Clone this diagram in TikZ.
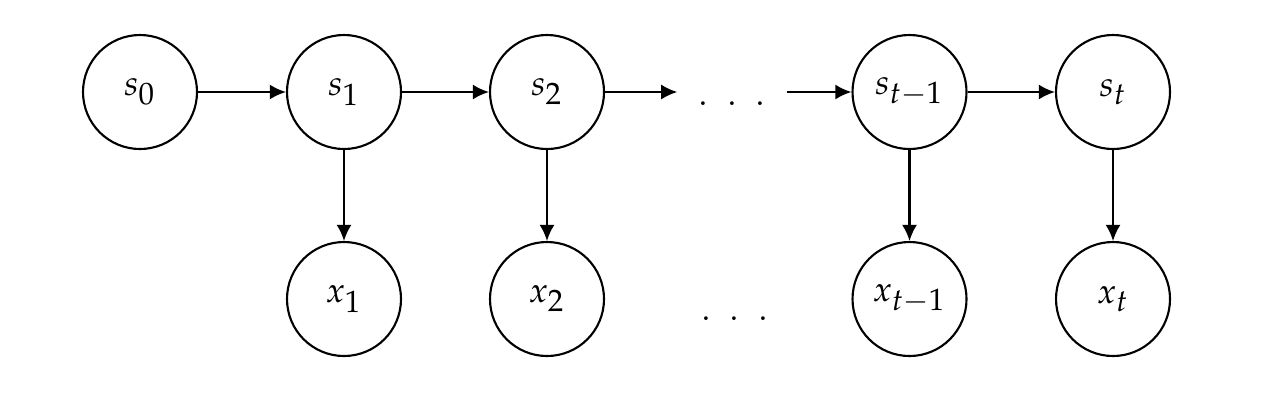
\documentclass[tikz,border=0pt]{standalone}
\usepackage{amsmath}
\usepackage{mathpazo}
\usetikzlibrary{arrows.meta}
\DeclareMathSizes{10}{10}{8.8}{7}
\newcommand{\wdots}{.\kern5.3pt.\kern5.3pt.}

\begin{document}
\begin{tikzpicture}
\tikzset{state/.style = {circle, draw, line width=.6pt, inner sep=0pt, minimum size=1.14cm}}
\tikzset{gap/.style = {inner sep=0pt, minimum width=1.08cm, text height=.27cm, text depth=0pt}}
\tikzset{edge/.style = {-{Latex[length=4.6pt,width=4.3pt]}, line width=.6 pt}}

\useasboundingbox (0, 0) rectangle (12.77, 4);

% hidden states
\node[state] (s0) at (1.40, 3.08) {$s_0$};
\node[state] (s1) at (3.44, 3.08) {$s_1$};
\node[state] (s2) at (5.47, 3.08) {$s_2$};
\node[gap] (sdots) at (7.32, 3.08) {\wdots};
\node[state] (stm) at (9.095, 3.08) {$s_{t-1}$};
\node[state] (st) at (11.13, 3.08) {$s_t$};

% observations
\node[state] (x1) at (3.44, 1.01) {$x_1$};
\node[state] (x2) at (5.47, 1.01) {$x_2$};
\node[anchor=base, inner sep=0pt] (xdots) at (7.345, .80) {\wdots};
\node[state] (xtm) at (9.095, 1.01) {$x_{t-1}$};
\node[state] (xt) at (11.13, 1.01) {$x_t$};

\draw[edge] (s0) -- (s1);
\draw[edge] (s1) -- (s2);
\draw[edge] (s2) -- (sdots);
\draw[edge] (sdots) -- (stm);
\draw[edge] (stm) -- (st);

\foreach \a/\b in {s1/x1, s2/x2, stm/xtm, st/xt}
  {\draw[edge] (\a) -- (\b);}

\end{tikzpicture}
\end{document}
